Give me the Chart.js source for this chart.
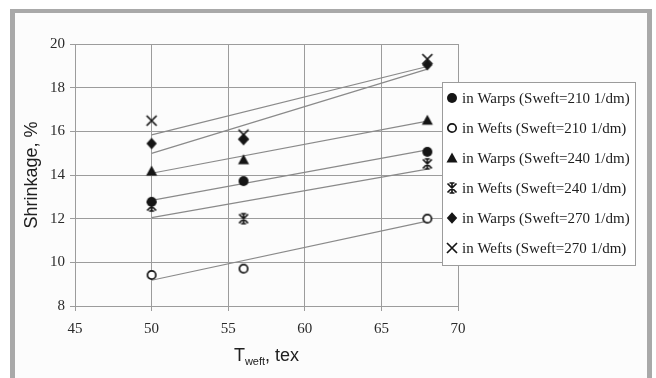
<!DOCTYPE html>
<html>
<head>
<meta charset="utf-8">
<script src="https://cdn.jsdelivr.net/npm/chart.js@4.4.1/dist/chart.umd.min.js"></script>
<style>
  html, body { margin: 0; padding: 0; background: #fff; overflow: hidden; }
  #wrap  { position: relative; width: 656px; height: 378px; overflow: hidden; }
  #frame { position: absolute; left: 10px; top: 9px; width: 632px; height: 420px;
           border: 5px solid #a9a9a9; border-top-width: 4px; background: #fcfcfc; }
  #chart { position: absolute; left: 0; top: 0; }
</style>
</head>
<body>
<div id="wrap">
  <div id="frame"></div>
  <canvas id="chart" width="656" height="378"></canvas>
</div>
<script>
// ------------------------------------------------------------
//  Shrinkage vs weft linear density
// ------------------------------------------------------------

const TEX = [50, 56, 68];

const WARPS_210 = [12.77, 13.72, 15.06];
const WEFTS_210 = [9.42, 9.71, 12.0];
const WARPS_240 = [14.18, 14.70, 16.51];
const WEFTS_240 = [12.58, 12.0, 14.51];
const WARPS_270 = [15.44, 15.62, 19.05];
const WEFTS_270 = [16.49, 15.85, 19.31];

// trend lines: value at the two ends (50 and 68 tex)
const TREND_X = [50, 68];
const TREND_WARPS_210 = [12.84, 15.15];
const TREND_WEFTS_210 = [9.18, 11.89];
const TREND_WARPS_240 = [14.08, 16.47];
const TREND_WEFTS_240 = [12.05, 14.27];
const TREND_WARPS_270 = [14.99, 18.85];
const TREND_WEFTS_270 = [15.84, 18.97];

const X_TICKS = [45, 50, 55, 60, 65, 70];
const Y_TICKS = [8, 10, 12, 14, 16, 18, 20];

const LABELS = [
  "in Warps (Sweft=210 1/dm)",
  "in Wefts (Sweft=210 1/dm)",
  "in Warps (Sweft=240 1/dm)",
  "in Wefts (Sweft=240 1/dm)",
  "in Warps (Sweft=270 1/dm)",
  "in Wefts (Sweft=270 1/dm)",
];

const INK  = "#151515";
const GRID = "#9c9c9c";
const SERIF = "'Liberation Serif', 'Times New Roman', serif";
const SANS  = "'Liberation Sans', Arial, sans-serif";

// маркеры рисуем сами, как в Excel
function marker(kind) {
  const s = 14, m = s / 2;
  const c = document.createElement("canvas");
  c.width = s; c.height = s;
  const g = c.getContext("2d");
  g.fillStyle = INK; g.strokeStyle = INK; g.lineWidth = 1.7;
  g.beginPath();
  switch (kind) {
    case "dot":
      g.arc(m, m, 5, 0, Math.PI * 2); g.fill(); break;
    case "ring":
      g.arc(m, m, 4.2, 0, Math.PI * 2);
      g.fillStyle = "#fff"; g.fill(); g.stroke(); break;
    case "tri":
      g.moveTo(m, m - 5.5); g.lineTo(m + 5.5, m + 4.5); g.lineTo(m - 5.5, m + 4.5);
      g.closePath(); g.fill(); break;
    case "star":
      g.moveTo(m - 4.5, m - 4.5); g.lineTo(m + 4.5, m + 4.5);
      g.moveTo(m + 4.5, m - 4.5); g.lineTo(m - 4.5, m + 4.5);
      g.moveTo(m, m - 5.5); g.lineTo(m, m + 5.5);
      g.moveTo(m - 2.5, m - 5); g.lineTo(m + 2.5, m - 5);
      g.moveTo(m - 2.5, m + 5); g.lineTo(m + 2.5, m + 5);
      g.stroke(); break;
    case "diamond":
      g.moveTo(m, m - 5.8); g.lineTo(m + 5.2, m); g.lineTo(m, m + 5.8); g.lineTo(m - 5.2, m);
      g.closePath(); g.fill(); break;
    case "cross":
      g.moveTo(m - 5, m - 5); g.lineTo(m + 5, m + 5);
      g.moveTo(m + 5, m - 5); g.lineTo(m - 5, m + 5);
      g.stroke(); break;
  }
  return c;
}

const MARKERS = ["dot", "ring", "tri", "star", "diamond", "cross"].map(marker);

const SERIES = [WARPS_210, WEFTS_210, WARPS_240, WEFTS_240, WARPS_270, WEFTS_270];
const TRENDS = [TREND_WARPS_210, TREND_WEFTS_210, TREND_WARPS_240,
                TREND_WEFTS_240, TREND_WARPS_270, TREND_WEFTS_270];

const pointSets = SERIES.map((vals, i) => ({
  label: LABELS[i],
  data: TEX.map((x, j) => ({ x, y: vals[j] })),
  showLine: false,
  pointStyle: MARKERS[i],
  pointRadius: 6,
}));

const trendSets = TRENDS.map(vals => ({
  label: "",
  data: TREND_X.map((x, j) => ({ x, y: vals[j] })),
  showLine: true,
  borderColor: "#8a8a8a",
  borderWidth: 1.2,
  pointRadius: 0,
}));

// легенда в рамке поверх графика
const boxLegend = {
  id: "boxLegend",
  afterDraw(chart) {
    const ctx = chart.ctx;
    const x0 = 442, y0 = 82, w = 193, h = 183;
    ctx.save();
    ctx.fillStyle = "#fff";
    ctx.fillRect(x0, y0, w, h);
    ctx.strokeStyle = GRID; ctx.lineWidth = 1;
    ctx.strokeRect(x0 + 0.5, y0 + 0.5, w, h);
    ctx.font = "15px " + SERIF;
    ctx.fillStyle = "#202020";
    ctx.textBaseline = "middle";
    LABELS.forEach((t, i) => {
      const y = y0 + 16 + i * 30;
      ctx.drawImage(MARKERS[i], x0 + 10 - 7, y - 7);
      ctx.fillText(t, x0 + 20, y + 1);
    });
    ctx.restore();
  },
};

// подпись оси X с индексом: T_weft, tex
const xTitle = {
  id: "xTitle",
  afterDraw(chart) {
    const ctx = chart.ctx, a = chart.chartArea;
    const big = "18px " + SANS, small = "11px " + SANS;
    ctx.save();
    ctx.fillStyle = "#202020";
    ctx.textBaseline = "alphabetic";
    ctx.font = big;   const wT = ctx.measureText("T").width;
    const wTail = ctx.measureText(", tex").width;
    ctx.font = small; const wSub = ctx.measureText("weft").width;
    let x = (a.left + a.right) / 2 - (wT + wSub + wTail) / 2;
    const base = 361;
    ctx.font = big;   ctx.fillText("T", x, base); x += wT;
    ctx.font = small; ctx.fillText("weft", x, base + 4); x += wSub;
    ctx.font = big;   ctx.fillText(", tex", x, base);
    ctx.restore();
  },
};

new Chart(document.getElementById("chart"), {
  type: "scatter",
  data: { datasets: [...pointSets, ...trendSets] },
  plugins: [boxLegend, xTitle],
  options: {
    responsive: false,
    animation: false,
    events: [],
    layout: { padding: { left: 0, right: 198, top: 44, bottom: 0 } },
    plugins: { legend: { display: false }, tooltip: { enabled: false } },
    scales: {
      x: {
        type: "linear",
        min: 45, max: 70,
        afterBuildTicks: s => { s.ticks = X_TICKS.map(v => ({ value: v })); },
        afterFit: s => { s.height = 72; },
        grid: { color: GRID, lineWidth: 1, tickLength: 5 },
        border: { color: GRID },
        ticks: { font: { family: SERIF, size: 15 }, color: "#2a2a2a", padding: 9, maxRotation: 0 },
      },
      y: {
        type: "linear",
        min: 8, max: 20,
        afterBuildTicks: s => { s.ticks = Y_TICKS.map(v => ({ value: v })); },
        afterFit: s => { s.width = 75; },
        grid: { color: GRID, lineWidth: 1, tickLength: 5 },
        border: { color: GRID },
        ticks: { font: { family: SERIF, size: 15 }, color: "#2a2a2a", padding: 5 },
        title: {
          display: true,
          text: "Shrinkage, %",
          font: { family: SANS, size: 18 },
          color: "#202020",
          padding: { top: 21, bottom: 0 },
        },
      },
    },
  },
});
</script>
</body>
</html>
